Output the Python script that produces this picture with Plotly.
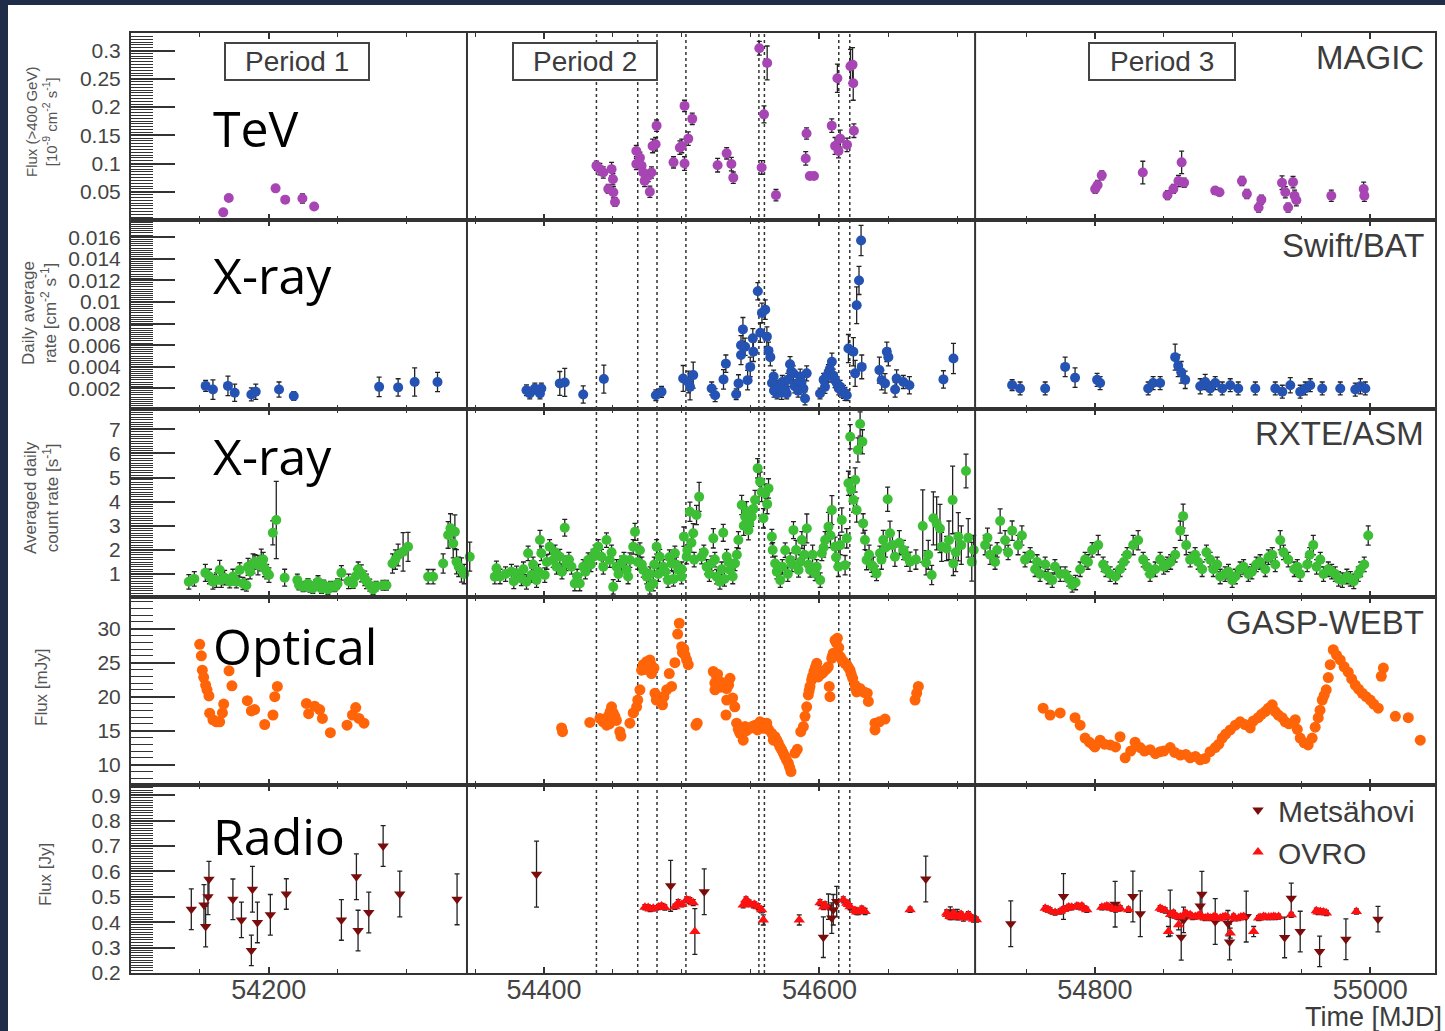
import plotly.graph_objects as go

# ======================= DATA =======================
# --- MAGIC TeV flux (>400 GeV) [1e-9 cm^-2 s^-1] ---
tev_mjd = [54167, 54171, 54205, 54212, 54224.5, 54233,
           54438, 54440.5, 54443, 54446.6, 54449, 54450, 54450.3, 54451.5,
           54467, 54467, 54469.6, 54470.8, 54472, 54473, 54475.6, 54476.8, 54478, 54478.8, 54481, 54481.7,
           54494, 54498.6, 54500, 54502, 54502, 54504.7, 54507.6,
           54526, 54532.6, 54536, 54537.4,
           54556.3, 54558, 54559.7, 54562, 54568.4,
           54590, 54590.6, 54593, 54596,
           54608.9, 54611.3, 54613, 54613.8, 54615, 54620, 54622.5, 54624, 54624.5, 54625,
           54800.2, 54802, 54805, 54834.8, 54852.7, 54857, 54860.7, 54863, 54864.8, 54887.4, 54890.5,
           54906.8, 54910.4, 54918.9, 54920.9, 54935.9, 54938.3, 54940.3, 54943.9, 54945, 54946.3,
           54971.7, 54995.2, 54995.7]
tev_flux = [0.0135, 0.039, 0.056, 0.036, 0.038, 0.024,
            0.096, 0.090, 0.084, 0.055, 0.090, 0.072, 0.049, 0.032,
            0.122, 0.099, 0.110, 0.096, 0.084, 0.069, 0.078, 0.050, 0.084, 0.131, 0.134, 0.167,
            0.102, 0.128, 0.131, 0.202, 0.100, 0.144, 0.179,
            0.097, 0.118, 0.099, 0.075,
            0.304, 0.093, 0.187, 0.278, 0.044,
            0.109, 0.153, 0.078, 0.078,
            0.167, 0.131, 0.251, 0.122, 0.144, 0.133, 0.272, 0.275, 0.242, 0.158,
            0.055, 0.062, 0.079, 0.084, 0.044, 0.055, 0.069, 0.102, 0.066, 0.052, 0.049,
            0.069, 0.046, 0.022, 0.036, 0.066, 0.049, 0.022, 0.067, 0.043, 0.035,
            0.043, 0.055, 0.043]
tev_err = [0.004, 0.004, 0.004, 0.004, 0.008, 0.004,
           0.008, 0.01, 0.01, 0.008, 0.012, 0.01, 0.01, 0.008,
           0.01, 0.01, 0.01, 0.01, 0.01, 0.01, 0.01, 0.01, 0.01, 0.012, 0.012, 0.01,
           0.01, 0.012, 0.012, 0.01, 0.012, 0.012, 0.01,
           0.012, 0.01, 0.012, 0.01,
           0.012, 0.012, 0.015, 0.03, 0.01,
           0.012, 0.01, 0.006, 0.006,
           0.012, 0.015, 0.025, 0.012, 0.015, 0.012, 0.03, 0.03, 0.03, 0.012,
           0.008, 0.008, 0.008, 0.02, 0.008, 0.008, 0.01, 0.02, 0.008, 0.006, 0.006,
           0.008, 0.008, 0.008, 0.008, 0.012, 0.01, 0.008, 0.01, 0.01, 0.01,
           0.01, 0.012, 0.01]

# --- Swift/BAT daily average rate [cm^-2 s^-1] ---
swift_mjd = [54154.2, 54159.5, 54170.4, 54175.3, 54187.4, 54190.6, 54207.5, 54218.2, 54280.2, 54294, 54306, 54322.6,
             54387.2, 54389.6, 54393.3, 54397, 54398, 54411.4, 54415, 54428.4, 54443.4, 54481.2, 54485.3,
             54501, 54504.7, 54506, 54508.3, 54521.7, 54524.2, 54530.3, 54532, 54539.5, 54541.2,
             54543, 54543, 54544.4, 54546, 54547.8, 54549.7, 54551.6, 54552, 54555.2, 54557,
             54558.2, 54560.6, 54561.8, 54563, 54564.3, 54566.7, 54568, 54569.2, 54571.6, 54574,
             54576.2, 54578.6, 54581, 54583.5, 54586, 54588.3, 54589.5, 54590.7,
             54600.4, 54604, 54606.5, 54609, 54611.3, 54615, 54617.4, 54619.8, 54621, 54624.6,
             54625.9, 54627, 54628.7, 54630.2, 54630.7,
             54643.5, 54645.2, 54647.6, 54648.9, 54650, 54654.9, 54656, 54660.9, 54665.3, 54690, 54697.3,
             54565.5, 54567, 54570, 54572.5, 54573, 54575, 54577, 54579.5, 54582, 54584.5,
             54587, 54603, 54605, 54607.5, 54610, 54612.5, 54614, 54616, 54618.5,
             54739.9, 54745.7, 54763.9, 54778.4, 54785.6, 54801.6, 54803.8, 54838.7, 54842.3, 54847.4,
             54858.3, 54860.5, 54862.7, 54865.6, 54876.5, 54880.1, 54883.7, 54887.4, 54892.5, 54898.3,
             54904.1, 54916.5, 54931, 54936.1, 54941.9, 54949.1, 54952.8, 54956.4, 54965.1, 54978.2,
             54989.1, 54992.8, 54996.4]
swift_rate = [0.00224, 0.0019, 0.00224, 0.0016, 0.00145, 0.0017, 0.0019, 0.0013, 0.00215, 0.0021, 0.0026, 0.0026,
              0.00184, 0.00154, 0.002, 0.00154, 0.002, 0.00247, 0.00256, 0.00145, 0.00287, 0.00138, 0.00169,
              0.00293, 0.0026, 0.00215, 0.00324, 0.002, 0.00138, 0.00284, 0.0043, 0.00147, 0.00247,
              0.0051, 0.006, 0.00747, 0.00586, 0.00277, 0.004, 0.00664, 0.0054, 0.011, 0.00716,
              0.009, 0.0093, 0.0068, 0.0055, 0.0049, 0.0031, 0.00215, 0.00154, 0.00184, 0.00215,
              0.00154, 0.00425, 0.0034, 0.00247, 0.0031, 0.002, 0.00108, 0.0034,
              0.00154, 0.00215, 0.0034, 0.00447, 0.00277, 0.00215, 0.00169, 0.00138, 0.0057, 0.0054,
              0.0034, 0.0097, 0.012, 0.0157, 0.004,
              0.0037, 0.00277, 0.00247, 0.0054, 0.0049, 0.0019, 0.00293, 0.0026, 0.0023, 0.00284, 0.00478,
              0.0025, 0.0018, 0.0020, 0.0016, 0.0026, 0.0019, 0.0028, 0.0036, 0.0022, 0.0018,
              0.0026, 0.0028, 0.0031, 0.0038, 0.0032, 0.0025, 0.0020, 0.0018, 0.0015,
              0.00231, 0.0020, 0.0020, 0.0040, 0.0030, 0.0028, 0.0025, 0.0020, 0.0025, 0.0025,
              0.0049, 0.0041, 0.0035, 0.0028, 0.0022, 0.0026, 0.0020, 0.0025, 0.0020, 0.0023,
              0.0020, 0.0020, 0.0020, 0.0017, 0.0023, 0.0017, 0.0020, 0.0023, 0.0020, 0.0020,
              0.0019, 0.0022, 0.0020]
swift_err = [0.0005, 0.0009, 0.0009, 0.0008, 0.0006, 0.0007, 0.0007, 0.0004, 0.0009, 0.0008, 0.0013, 0.0009,
             0.0005, 0.0005, 0.0005, 0.0005, 0.0005, 0.0011, 0.0013, 0.0008, 0.0013, 0.0005, 0.0005,
             0.0012, 0.001, 0.0012, 0.0012, 0.0006, 0.0006, 0.0009, 0.0008, 0.0005, 0.0008,
             0.0009, 0.0009, 0.0011, 0.0008, 0.0009, 0.0009, 0.0009, 0.0009, 0.0008, 0.0009,
             0.0009, 0.0009, 0.0009, 0.0008, 0.0008, 0.0006, 0.0006, 0.0005, 0.0005, 0.0005,
             0.0005, 0.0007, 0.0007, 0.0006, 0.0007, 0.0006, 0.0006, 0.0007,
             0.0005, 0.0006, 0.0008, 0.0008, 0.0007, 0.0006, 0.0006, 0.0005, 0.0013, 0.0013,
             0.0012, 0.0017, 0.0013, 0.0014, 0.0011,
             0.0012, 0.0009, 0.0009, 0.0009, 0.0008, 0.0007, 0.0008, 0.0006, 0.0008, 0.0008, 0.0014,
             0.0006, 0.0006, 0.0006, 0.0006, 0.0006, 0.0006, 0.0006, 0.0006, 0.0006, 0.0006,
             0.0006, 0.0006, 0.0006, 0.0006, 0.0006, 0.0006, 0.0006, 0.0006, 0.0006,
             0.0005, 0.0006, 0.0006, 0.0009, 0.0009, 0.0006, 0.0006, 0.0006, 0.0006, 0.0006,
             0.0012, 0.0010, 0.0010, 0.0008, 0.0007, 0.0007, 0.0006, 0.0006, 0.0006, 0.0006,
             0.0006, 0.0006, 0.0006, 0.0006, 0.0007, 0.0006, 0.0006, 0.0006, 0.0006, 0.0006,
             0.0006, 0.0007, 0.0006]

# --- RXTE/ASM averaged daily count rate [s^-1] ---
rxte_mjd_p1 = [54142, 54154, 54159.5, 54164.4, 54165.6, 54171.7, 54176.5, 54179, 54181.3, 54183.8,
               54185, 54188.6, 54192.2, 54194.6, 54197, 54200.2, 54203, 54205.5, 54211.6, 54220.8,
               54225, 54228.5, 54232, 54235.8, 54238.3, 54243, 54248, 54252.8, 54261.3, 54267.3,
               54269.8, 54273.4, 54275.8, 54283, 54285.5, 54289.9, 54294, 54297.6, 54301.2, 54315.8,
               54319.4, 54326.7, 54330.3, 54334, 54335.2, 54336.4, 54340, 54346,
               54146, 54157, 54162, 54168, 54174, 54186.5, 54190, 54196, 54198.5, 54222,
               54226.5, 54230, 54234, 54240, 54245, 54250, 54258, 54263, 54265, 54271,
               54278, 54292, 54332, 54338, 54342]
rxte_rate_p1 = [0.68, 1.05, 0.68, 1.17, 0.75, 0.68, 0.68, 1.17, 0.61, 0.54,
                1.3, 1.44, 1.37, 1.58, 1.24, 0.96, 2.71, 3.24, 0.85, 0.75,
                0.47, 0.61, 0.4, 0.68, 0.4, 0.36, 0.47, 1.05, 0.61, 1.03,
                0.82, 0.54, 0.36, 0.54, 0.54, 1.44, 1.79, 1.92, 2.13, 0.89,
                0.89, 1.44, 2.62, 2.27, 2.75, 1.51, 1.17, 1.72,
                0.8, 0.9, 0.75, 0.85, 0.9, 1.1, 1.5, 1.6, 1.1, 0.55,
                0.5, 0.45, 0.55, 0.55, 0.5, 0.6, 0.7, 0.9, 1.2, 0.7,
                0.5, 1.6, 2.9, 1.3, 1.0]
rxte_err_p1 = [0.3, 0.35, 0.3, 0.4, 0.3, 0.25, 0.25, 0.3, 0.25, 0.25,
               0.35, 0.4, 0.4, 0.45, 0.35, 0.3, 0.5, 1.6, 0.35, 0.25,
               0.2, 0.2, 0.2, 0.25, 0.2, 0.2, 0.2, 0.3, 0.2, 0.35,
               0.3, 0.25, 0.2, 0.2, 0.2, 0.4, 0.45, 0.8, 0.6, 0.3,
               0.3, 0.4, 0.55, 0.6, 0.7, 0.5, 0.5, 0.6,
               0.3, 0.3, 0.3, 0.3, 0.3, 0.3, 0.3, 0.3, 0.3, 0.2,
               0.2, 0.2, 0.2, 0.2, 0.2, 0.2, 0.3, 0.3, 0.3, 0.3,
               0.2, 0.4, 0.6, 0.4, 0.4]
rxte_mjd_p2 = [54364.2, 54365.4, 54376.3, 54380, 54383.5, 54387.2, 54388.4, 54390.8, 54394.5, 54397,
               54398, 54400.5, 54404, 54406.6, 54409, 54411.4, 54415, 54416.2, 54419.9, 54422.3,
               54425.9, 54428.4, 54432, 54435.6, 54439.3, 54441.7, 54445.3, 54447.7, 54450.2, 54452.6,
               54456.3, 54459.9, 54462.3, 54464.7, 54466, 54469.6, 54472, 54474.5, 54476.8, 54479.3,
               54481.7, 54484, 54486.5, 54490, 54492.6, 54495, 54497.4, 54499.8, 54501.5, 54503.5,
               54505.9, 54508.3, 54510.7, 54512.6, 54514.4, 54518, 54521.7, 54522.9, 54525.3, 54527.7,
               54530.1, 54532.6, 54535, 54538.6, 54541.1, 54543.5, 54546, 54548.4, 54550.8, 54553.2,
               54555.1, 54556.9, 54559.3, 54560.6, 54563, 54565.4, 54567.8, 54571.5, 54575.1, 54578.7,
               54581.1, 54584.8, 54587.2, 54590.8, 54593.2, 54596.9, 54600.5, 54601.7, 54604.1, 54606.5,
               54609, 54611.3, 54613.7, 54616.2, 54618.6, 54619.8, 54621, 54622.3, 54624.7, 54625.9,
               54627.9, 54629.5, 54631.2, 54627, 54631.7, 54633, 54634.2, 54637.8, 54641.4, 54643.9,
               54646.3, 54649.5, 54651.2, 54654.8, 54663.3, 54665.7, 54675, 54677.4, 54681.5, 54682.7,
               54685.1, 54687.5, 54688.7, 54692.3, 54696.7, 54697.2, 54700.8, 54706.4, 54710.6,
               54368, 54372, 54378, 54385, 54392, 54396, 54402, 54408, 54413, 54418,
               54424, 54430, 54434, 54437, 54443, 54449, 54454, 54458, 54461, 54468,
               54471, 54477, 54480, 54483, 54488, 54491, 54494, 54496, 54500, 54504,
               54507, 54509, 54516, 54520, 54524, 54529, 54531, 54534, 54537, 54540,
               54545, 54547, 54549, 54552, 54558, 54562, 54566, 54569, 54573, 54577,
               54580, 54583, 54586, 54589, 54592, 54595, 54598, 54603, 54608, 54612,
               54615, 54623, 54636, 54639, 54645, 54648, 54653, 54658, 54661, 54670,
               54679, 54694, 54699, 54703, 54708, 54712]
rxte_rate_p2 = [0.89, 1.24, 1.1, 1.03, 0.82, 0.68, 1.86, 0.96, 0.75, 2.41,
                1.86, 0.96, 2.13, 1.58, 1.3, 1.72, 2.92, 1.44, 1.3, 0.61,
                0.61, 1.3, 1.58, 1.72, 2.13, 1.72, 2.41, 1.58, 0.47, 1.3,
                1.44, 1.17, 1.58, 2.13, 2.75, 1.99, 1.17, 0.89, 0.47, 0.61,
                2.13, 1.72, 1.3, 0.75, 1.44, 1.86, 1.17, 0.89, 2.55, 1.72,
                3.58, 2.69, 3.45, 4.2, 1.72, 1.3, 1.44, 2.48, 0.89, 0.68,
                2.71, 1.72, 1.17, 1.44, 2.41, 3.86, 3.38, 2.82, 3.38, 4.07,
                5.38, 4.83, 3.31, 4.34, 4.55, 2.55, 1.44, 0.75, 1.99, 1.58,
                2.82, 1.17, 2.41, 2.89, 1.17, 1.03, 0.75, 1.86, 2.41, 2.96,
                3.65, 2.13, 1.3, 3.24, 1.37, 2.48, 4.76, 6.69, 4.07, 4.9,
                6.14, 7.22, 6.48, 3.65, 3.1, 2.41, 1.58, 1.37, 1.03, 1.86,
                2.41, 4.1, 2.69, 1.72, 1.72, 1.51, 2.99, 1.47, 0.96, 3.31,
                3.1, 2.89, 2.13, 2.06, 4.07, 1.44, 2.55, 5.27, 1.51,
                0.9, 1.0, 0.7, 1.2, 1.4, 1.1, 1.5, 1.9, 1.1, 1.6,
                0.9, 1.1, 1.4, 1.9, 1.3, 1.9, 1.0, 1.6, 0.9, 1.5,
                1.4, 1.0, 1.4, 1.0, 1.1, 1.7, 0.8, 1.4, 1.2, 2.0,
                2.3, 1.6, 1.9, 1.0, 1.6, 1.2, 0.8, 1.5, 0.9, 1.8,
                3.0, 3.6, 3.1, 3.7, 4.4, 3.9, 2.0, 1.1, 1.3, 1.0,
                1.4, 2.0, 1.5, 1.8, 1.4, 1.8, 1.3, 2.1, 2.6, 1.7,
                2.2, 4.5, 1.8, 1.3, 1.6, 2.1, 2.2, 2.3, 2.0, 1.6,
                1.8, 2.4, 1.9, 2.2, 2.5, 2.0]
rxte_err_p2 = [0.3, 0.3, 0.3, 0.3, 0.3, 0.3, 0.3, 0.3, 0.3, 0.4,
               0.3, 0.3, 0.3, 0.3, 0.3, 0.3, 0.35, 0.3, 0.3, 0.3,
               0.3, 0.3, 0.3, 0.3, 0.3, 0.3, 0.3, 0.3, 0.3, 0.3,
               0.3, 0.3, 0.3, 0.3, 0.35, 0.3, 0.3, 0.3, 0.3, 0.3,
               0.3, 0.3, 0.3, 0.3, 0.3, 0.3, 0.3, 0.3, 0.4, 0.3,
               0.4, 0.4, 0.4, 0.6, 0.3, 0.3, 0.3, 0.4, 0.3, 0.3,
               0.35, 0.3, 0.3, 0.3, 0.35, 0.4, 0.4, 0.4, 0.4, 0.4,
               0.4, 0.4, 0.4, 0.4, 0.4, 0.3, 0.3, 0.3, 0.3, 0.3,
               0.35, 0.3, 0.35, 0.6, 0.3, 0.3, 0.3, 0.3, 0.35, 0.6,
               0.6, 0.4, 0.4, 0.5, 0.4, 0.4, 0.5, 0.5, 0.5, 0.5,
               0.5, 0.5, 0.5, 0.5, 0.4, 0.4, 0.4, 0.3, 0.3, 0.3,
               0.4, 0.5, 0.5, 0.4, 0.4, 0.4, 1.5, 0.5, 0.4, 1.1,
               1.1, 1.0, 0.6, 0.5, 1.4, 0.5, 1.0, 0.7, 0.8,
               0.3, 0.3, 0.3, 0.3, 0.3, 0.3, 0.3, 0.3, 0.3, 0.3,
               0.3, 0.3, 0.3, 0.3, 0.3, 0.3, 0.3, 0.3, 0.3, 0.3,
               0.3, 0.3, 0.3, 0.3, 0.3, 0.3, 0.3, 0.3, 0.3, 0.4,
               0.4, 0.3, 0.3, 0.3, 0.3, 0.3, 0.3, 0.3, 0.3, 0.3,
               0.4, 0.4, 0.4, 0.4, 0.4, 0.4, 0.3, 0.3, 0.3, 0.3,
               0.3, 0.4, 0.3, 0.4, 0.3, 0.4, 0.3, 0.4, 0.5, 0.4,
               0.4, 0.5, 0.4, 0.4, 0.4, 0.4, 0.5, 0.5, 0.4, 0.4,
               0.6, 0.8, 0.8, 0.8, 0.8, 0.6]
rxte_mjd_p3 = [54720.3, 54723.9, 54727.5, 54731.2, 54734.8, 54739.9, 54744.2, 54749.3, 54753, 54756.6,
               54760.2, 54763.9, 54769, 54774.8, 54778.4, 54783.5, 54789.3, 54792.9, 54798, 54802.4,
               54806, 54811.1, 54818.3, 54823.4, 54827.8, 54831.4, 54835.1, 54840.1, 54843.8, 54847.4,
               54852.5, 54858.3, 54862, 54864.1, 54866.3, 54869.2, 54872.8, 54877.9, 54883.7, 54888.8,
               54894.6, 54899.7, 54905.5, 54911.4, 54917.2, 54923.7, 54928.8, 54934.6, 54940.4, 54944.8,
               54949.1, 54954.2, 54958.6, 54963.7, 54969.5, 54974.6, 54979.7, 54985.5, 54991.3, 54995.6,
               54998.5,
               54722, 54729, 54737, 54747, 54758, 54766, 54771, 54781, 54786, 54795,
               54808, 54815, 54821, 54838, 54850, 54855, 54875, 54881, 54886, 54891,
               54897, 54902, 54908, 54914, 54920, 54926, 54931, 54937, 54947, 54956,
               54961, 54966, 54972, 54977, 54983, 54988, 54993]
rxte_rate_p3 = [2.2, 1.8, 1.5, 3.2, 2.4, 2.8, 2.2, 1.6, 1.8, 1.2,
                1.0, 1.4, 0.75, 1.0, 1.0, 0.55, 1.2, 1.6, 2.0, 2.2,
                1.4, 1.0, 1.2, 1.8, 2.2, 2.4, 1.6, 1.0, 1.2, 1.6,
                1.4, 1.8, 2.8, 3.4, 2.2, 1.6, 1.8, 1.2, 1.6, 1.4,
                1.0, 0.75, 1.2, 1.0, 1.4, 1.2, 1.8, 2.4, 1.6, 1.2,
                1.0, 1.4, 2.2, 1.6, 1.2, 1.0, 0.75, 0.8, 1.0, 1.4,
                2.6,
                2.5, 2.0, 1.9, 2.6, 1.5, 0.9, 1.3, 0.8, 0.65, 1.5,
                1.2, 0.9, 1.5, 1.3, 1.3, 1.5, 1.5, 1.9, 1.2, 0.9,
                1.1, 0.9, 1.3, 1.1, 1.5, 1.7, 1.4, 1.9, 1.3, 1.8,
                1.3, 1.0, 1.1, 0.8, 0.9, 0.7, 1.2]
rxte_err_p3 = [0.4, 0.4, 0.3, 0.5, 0.4, 0.4, 0.4, 0.3, 0.3, 0.3,
               0.3, 0.3, 0.3, 0.3, 0.3, 0.3, 0.3, 0.3, 0.3, 0.4,
               0.3, 0.3, 0.3, 0.3, 0.4, 0.4, 0.3, 0.3, 0.3, 0.3,
               0.3, 0.3, 0.4, 0.5, 0.4, 0.3, 0.3, 0.3, 0.3, 0.3,
               0.3, 0.3, 0.3, 0.3, 0.3, 0.3, 0.3, 0.4, 0.3, 0.3,
               0.3, 0.3, 0.4, 0.3, 0.3, 0.3, 0.3, 0.3, 0.3, 0.3,
               0.4,
               0.4, 0.3, 0.3, 0.4, 0.3, 0.3, 0.3, 0.3, 0.3, 0.3,
               0.3, 0.3, 0.3, 0.3, 0.3, 0.3, 0.3, 0.3, 0.3, 0.3,
               0.3, 0.3, 0.3, 0.3, 0.3, 0.3, 0.3, 0.3, 0.3, 0.3,
               0.3, 0.3, 0.3, 0.3, 0.3, 0.3, 0.3]

# --- GASP-WEBT optical flux [mJy] ---
opt_mjd_p1 = [54149.9, 54151.1, 54151.8, 54152.8, 54154.2, 54155.2, 54156.6, 54157.1, 54159.5, 54162,
              54164.4, 54166.4, 54167.3, 54171.2, 54173.3, 54184.5, 54187.4, 54189.8, 54197.1, 54203.1,
              54204.4, 54206.3, 54227.4, 54229, 54233.4, 54237, 54239, 54244.8, 54256.9, 54260.8,
              54263.2, 54265.6, 54269.2]
opt_flux_p1 = [27.7, 26.0, 23.9, 22.85, 21.7, 21.0, 20.1, 17.56, 16.6, 16.3,
               16.3, 17.6, 18.9, 23.8, 21.6, 19.4, 17.9, 18.1, 15.9, 17.3,
               20.0, 21.5, 19.0, 17.5, 18.6, 18.1, 16.8, 14.7, 15.8, 17.3,
               18.4, 16.8, 16.1]
opt_mjd_p2 = [54412.7, 54413.4, 54433.2, 54440.5, 54442.9, 54445.4, 54446.5, 54449, 54450.2, 54451.4,
              54455, 54455.8, 54462.3, 54464.7, 54467.2, 54469.6, 54470.8, 54472, 54474.4, 54476.8,
              54478, 54479.8, 54480.5, 54482.9, 54485.4, 54487, 54489, 54490.9, 54492.6, 54495,
              54497, 54498.2, 54499.9, 54502.3, 54503.5, 54504.7, 54510.3, 54511.2, 54522.9, 54525.3,
              54527.7, 54530.1, 54524.1, 54532.6, 54535, 54532.6, 54536.9, 54532.1, 54538.5, 54539.8,
              54542.2, 54544.6, 54545.9, 54549.5, 54553.2, 54556.8, 54559.3, 54561.7, 54565.3, 54567.7,
              54570.1, 54572.5, 54574.9, 54577.4, 54579.3, 54582.2, 54583.9, 54586.4, 54588.3, 54589.5,
              54590.7, 54591.9, 54593.1, 54594.3, 54596, 54598, 54599.1, 54601.6, 54604, 54606.4,
              54607.1, 54607.6, 54608.9, 54610, 54611.3, 54613, 54615, 54617.4, 54619.8, 54622.2,
              54624.1, 54625.8, 54627, 54629.4, 54631.8, 54634.7, 54635.5, 54640.3, 54640.3, 54643.5,
              54647.6, 54669.4, 54670.6, 54671.8,
              54444, 54447.5, 54448, 54452.5, 54468, 54473, 54475.5, 54477.5, 54481.5, 54484,
              54486, 54500.5, 54501.5, 54524, 54526, 54528.5, 54531, 54534, 54541, 54547,
              54551, 54555, 54558, 54560.5, 54563, 54566.5, 54569, 54571.3, 54573.7, 54576,
              54578.3, 54592.5, 54595, 54597, 54600, 54602.8, 54605.2, 54609.5, 54612, 54614,
              54616, 54618.5, 54621, 54623, 54626.5, 54628, 54630.5, 54633]
opt_flux_p2 = [15.4, 14.85, 16.2, 16.8, 16.3, 15.8, 17.1, 18.5, 17.6, 17.1,
               14.85, 14.2, 16.1, 17.6, 18.5, 21.0, 23.9, 24.7, 25.15, 25.4,
               23.4, 24.2, 20.5, 20.0, 19.0, 20.0, 21.0, 23.4, 21.5, 25.0,
               29.2, 30.8, 27.35, 26.1, 25.4, 24.7, 15.8, 16.1, 23.7, 22.9,
               22.2, 21.7, 21.0, 21.2, 22.7, 19.5, 19.8, 17.3, 18.5, 16.1,
               14.6, 13.6, 15.6, 15.35, 15.8, 16.3, 15.35, 16.1, 14.6, 14.1,
               13.15, 12.2, 11.2, 10.2, 8.97, 11.7, 12.25, 14.85, 15.6, 17.1,
               18.5, 20.25, 21.5, 22.45, 23.7, 24.9, 22.9, 23.4, 23.9, 24.4,
               21.5, 20.0, 25.65, 26.4, 28.3, 28.6, 25.9, 25.15, 24.7, 23.9,
               22.7, 21.7, 20.7, 21.2, 20.7, 20.5, 19.3, 16.1, 15.1, 16.3,
               16.7, 19.5, 20.5, 21.5,
               16.6, 16.0, 17.8, 16.5, 19.5, 24.0, 24.5, 24.8, 19.5, 19.8,
               18.8, 26.5, 27.0, 22.0, 23.3, 21.4, 22.0, 21.7, 15.2, 15.0,
               15.6, 15.1, 15.9, 15.7, 15.2, 13.6, 13.6, 12.6, 11.7, 10.7,
               9.6, 20.9, 23.0, 24.3, 23.2, 23.6, 24.1, 26.0, 28.0, 27.2,
               25.5, 24.9, 24.3, 23.3, 21.2, 20.9, 20.9, 20.6]
opt_mjd_p3 = [54762.4, 54767.5, 54774.8, 54785.6, 54789.3, 54792.9, 54798.7, 54803.8, 54811.1, 54818.3,
              54822, 54829.2, 54832.9, 54840.1, 54847.4, 54854.7, 54862, 54869.2, 54876.5, 54883.7,
              54887.4, 54892.5, 54898.3, 54905.5, 54912.8, 54918.6, 54923.7, 54928.8, 54933.2, 54938.2,
              54945.5, 54949.1, 54954.9, 54957.8, 54962.2, 54965.1, 54968, 54970.9, 54973.1, 54978.2,
              54984, 54989.1, 54994.2, 55000, 55005.8, 55009.5, 55018.2, 55027.6, 55036.3,
              54796, 54800, 54807, 54815, 54826, 54836, 54844, 54850, 54858, 54866,
              54873, 54880, 54890, 54895, 54902, 54909, 54915, 54921, 54926, 54931,
              54936, 54941, 54947, 54952, 54960, 54963.5, 54966.5, 54969.5, 54975.5, 54981,
              54986.5, 54991.5, 54997, 55002.5, 55008]
opt_flux_p3 = [18.3, 17.3, 17.6, 16.9, 15.8, 13.9, 12.9, 13.6, 12.9, 14.1,
               11.0, 13.3, 12.5, 12.2, 11.9, 12.5, 11.4, 11.0, 10.7, 11.9,
               12.5, 13.9, 15.1, 16.3, 15.4, 16.9, 17.8, 18.8, 17.3, 16.3,
               16.6, 13.9, 12.9, 13.9, 16.9, 19.5, 21.0, 24.7, 26.9, 25.4,
               23.6, 21.7, 20.5, 19.5, 18.3, 24.2, 17.1, 16.9, 13.6,
               13.3, 12.6, 13.0, 12.6, 12.0, 12.0, 11.6, 12.0, 11.8, 11.5,
               11.2, 10.9, 13.0, 14.5, 15.8, 15.9, 16.4, 17.4, 18.3, 17.8,
               16.9, 16.0, 15.2, 13.2, 15.5, 18.0, 20.2, 22.8, 26.1, 24.4,
               22.6, 21.1, 20.0, 18.9, 23.0]

# --- Radio flux [Jy] ---
mets_mjd = [54143.8, 54153, 54154.2, 54155.9, 54156.6, 54174, 54180.2, 54187.4, 54188.2, 54191.8,
            54201.2, 54212.8, 54252.8, 54263.7, 54264.9, 54272.7, 54283.1, 54295.2, 54336.8,
            54394.5, 54491.9, 54516.3, 54602.8, 54606.5, 54608.9, 54610, 54612.5, 54677.2, 54695, 54700,
            54738.9, 54777.2, 54814.7, 54827.6, 54833, 54854.7, 54862.7, 54864.4, 54876.5, 54877.7,
            54887.4, 54896.6, 54897.8, 54909.9, 54937.8, 54942.6, 54949.1, 54963.2, 54982.3, 55005.6]
mets_flux = [0.451, 0.468, 0.383, 0.5, 0.569, 0.49, 0.409, 0.289, 0.53, 0.399,
             0.429, 0.511, 0.409, 0.579, 0.367, 0.438, 0.7, 0.511, 0.49,
             0.589, 0.543, 0.52, 0.341, 0.461, 0.416, 0.449, 0.481, 0.57, 0.44, 0.43,
             0.394, 0.501, 0.471, 0.501, 0.433, 0.436, 0.341, 0.409, 0.464, 0.51,
             0.403, 0.396, 0.322, 0.422, 0.34, 0.494, 0.363, 0.285, 0.333, 0.412]
mets_err = [0.08, 0.08, 0.08, 0.07, 0.07, 0.08, 0.07, 0.06, 0.09, 0.08,
            0.08, 0.06, 0.08, 0.09, 0.08, 0.08, 0.08, 0.09, 0.1,
            0.13, 0.1, 0.09, 0.08, 0.05, 0.06, 0.06, 0.06, 0.09, 0.02, 0.02,
            0.09, 0.09, 0.09, 0.1, 0.09, 0.09, 0.09, 0.05, 0.05, 0.09,
            0.09, 0.05, 0.07, 0.1, 0.08, 0.06, 0.08, 0.06, 0.08, 0.05]
ovro_mjd = [54473.2, 54475.6, 54479.3, 54485.3, 54487.7, 54495, 54497.4, 54503.5, 54505.9, 54508.3,
            54509.5, 54544.6, 54546.6, 54549, 54551.9, 54555.5, 54558, 54559.2, 54585.3, 54600.4,
            54604, 54617.3, 54619.8, 54622.2, 54625.8, 54628.2, 54630.7, 54633.1, 54665.8, 54692.4,
            54694.8, 54697.2, 54699.7, 54702.1, 54704.5, 54708.1, 54711.8,
            54477, 54483, 54500, 54548, 54553, 54603, 54621, 54627, 54632, 54693,
            54696, 54698, 54701, 54703, 54706, 54710, 54714,
            54763.9, 54767.5, 54771.1, 54774.7, 54779.6, 54783.2, 54786.9, 54790.5, 54794.1, 54805,
            54808.7, 54812.3, 54818.4, 54824.4, 54847.4, 54851.1, 54853.4, 54857.1, 54859.6, 54860.8,
            54865.6, 54869.2, 54872.9, 54876.5, 54880.1, 54883.8, 54887.4, 54891, 54894.7, 54898.3,
            54900.7, 54904.4, 54908, 54915.3, 54918.9, 54922.5, 54926.2, 54929.8, 54933.4, 54942.6,
            54960.8, 54963.7, 54968.1, 54989.9,
            54766, 54777, 54781, 54788, 54792, 54807, 54810, 54815, 54849, 54855,
            54862, 54867, 54871, 54875, 54878, 54882, 54886, 54889, 54893, 54896,
            54902, 54906, 54920, 54924, 54928, 54931, 54962, 54966]
ovro_flux = [0.459, 0.458, 0.455, 0.464, 0.458, 0.461, 0.477, 0.488, 0.485, 0.477,
             0.363, 0.468, 0.488, 0.475, 0.468, 0.461, 0.449, 0.409, 0.409, 0.477,
             0.468, 0.488, 0.475, 0.461, 0.446, 0.442, 0.451, 0.442, 0.449, 0.436,
             0.422, 0.436, 0.422, 0.429, 0.416, 0.429, 0.412,
             0.452, 0.46, 0.47, 0.48, 0.47, 0.46, 0.47, 0.44, 0.445, 0.43,
             0.42, 0.43, 0.42, 0.43, 0.42, 0.42, 0.41,
             0.455, 0.446, 0.438, 0.442, 0.455, 0.459, 0.464, 0.464, 0.449, 0.459,
             0.464, 0.455, 0.455, 0.449, 0.455, 0.446, 0.363, 0.436, 0.422, 0.39,
             0.436, 0.429, 0.422, 0.429, 0.416, 0.416, 0.422, 0.416, 0.422, 0.357,
             0.422, 0.416, 0.422, 0.363, 0.416, 0.422, 0.42, 0.422, 0.422, 0.429,
             0.445, 0.442, 0.436, 0.442,
             0.45, 0.45, 0.46, 0.462, 0.455, 0.46, 0.46, 0.45, 0.45, 0.43,
             0.42, 0.43, 0.42, 0.425, 0.42, 0.42, 0.42, 0.415, 0.42, 0.42,
             0.415, 0.42, 0.418, 0.42, 0.42, 0.42, 0.44, 0.44]
ovro_err = [0.01, 0.01, 0.01, 0.01, 0.01, 0.01, 0.012, 0.012, 0.012, 0.012,
            0.09, 0.012, 0.012, 0.012, 0.012, 0.012, 0.012, 0.02, 0.02, 0.012,
            0.012, 0.012, 0.012, 0.012, 0.012, 0.012, 0.012, 0.012, 0.01, 0.012,
            0.012, 0.012, 0.012, 0.012, 0.012, 0.012, 0.012,
            0.01, 0.01, 0.01, 0.01, 0.01, 0.01, 0.01, 0.01, 0.01, 0.01,
            0.01, 0.01, 0.01, 0.01, 0.01, 0.01, 0.01,
            0.01, 0.01, 0.01, 0.01, 0.01, 0.01, 0.01, 0.01, 0.01, 0.01,
            0.01, 0.01, 0.01, 0.01, 0.01, 0.01, 0.02, 0.01, 0.01, 0.02,
            0.01, 0.01, 0.01, 0.01, 0.01, 0.01, 0.01, 0.01, 0.01, 0.02,
            0.01, 0.01, 0.01, 0.02, 0.01, 0.01, 0.01, 0.01, 0.01, 0.01,
            0.01, 0.01, 0.01, 0.01,
            0.01, 0.01, 0.01, 0.01, 0.01, 0.01, 0.01, 0.01, 0.01, 0.01,
            0.01, 0.01, 0.01, 0.01, 0.01, 0.01, 0.01, 0.01, 0.01, 0.01,
            0.01, 0.01, 0.01, 0.01, 0.01, 0.01, 0.01, 0.01]

# --- reference epochs (dotted) and period boundaries (solid) [MJD] ---
flare_epochs = [54438, 54468, 54482, 54503, 54556, 54560, 54614, 54622]
period_bounds = [54344, 54713]

# --- axis ticks / labels ---
x_range = [54100, 55047]
x_ticks = [54200, 54400, 54600, 54800, 55000]
x_tick_text = ["54200", "54400", "54600", "54800", "55000"]
tev_ticks = [0.05, 0.1, 0.15, 0.2, 0.25, 0.3]
tev_tick_text = ["0.05", "0.1", "0.15", "0.2", "0.25", "0.3"]
swift_ticks = [0.002, 0.004, 0.006, 0.008, 0.010, 0.012, 0.014, 0.016]
swift_tick_text = ["0.002", "0.004", "0.006", "0.008", "0.01", "0.012", "0.014", "0.016"]
rxte_ticks = [1, 2, 3, 4, 5, 6, 7]
rxte_tick_text = ["1", "2", "3", "4", "5", "6", "7"]
opt_ticks = [10, 15, 20, 25, 30]
opt_tick_text = ["10", "15", "20", "25", "30"]
radio_ticks = [0.2, 0.3, 0.4, 0.5, 0.6, 0.7, 0.8, 0.9]
radio_tick_text = ["0.2", "0.3", "0.4", "0.5", "0.6", "0.7", "0.8", "0.9"]

# ======================= FIGURE =======================
W, H = 1445, 1031


def fx(p):
    return p / W


def fy(p):
    return 1 - p / H


PLOT_L, PLOT_R = 131, 1435
panel_px = [(33, 220), (220, 409), (409, 597), (597, 785), (785, 973)]

y_cfg = [
    dict(range=[0, 0.331], tickvals=tev_ticks, ticktext=tev_tick_text, minor=0.005),
    dict(range=[0.0001, 0.0176], tickvals=swift_ticks, ticktext=swift_tick_text, minor=0.0002),
    dict(range=[0.05, 7.84], tickvals=rxte_ticks, ticktext=rxte_tick_text, minor=0.1),
    dict(range=[7.0, 34.66], tickvals=opt_ticks, ticktext=opt_tick_text, minor=1),
    dict(range=[0.2, 0.94], tickvals=radio_ticks, ticktext=radio_tick_text, minor=0.01),
]

AX = "#333333"
TXT = "#3c3c3c"
FONT = "Liberation Sans, Arial, Helvetica, sans-serif"

fig = go.Figure()

err_style = dict(type="data", color="#222222", thickness=1.3, width=2.5)


def add(x, y, err, row, color, symbol="circle", size=10, name=None, legend=False):
    fig.add_trace(go.Scatter(
        x=x, y=y, mode="markers",
        marker=dict(color=color, size=size, symbol=symbol, line=dict(width=0)),
        error_y=dict(array=err, **err_style) if err is not None else None,
        xaxis="x" if row == 1 else "x%d" % row,
        yaxis="y" if row == 1 else "y%d" % row,
        name=name, showlegend=legend, hoverinfo="skip"))


add(tev_mjd, tev_flux, tev_err, 1, "#a845b4")
add(swift_mjd, swift_rate, swift_err, 2, "#2453b3")
add(rxte_mjd_p1 + rxte_mjd_p2 + rxte_mjd_p3, rxte_rate_p1 + rxte_rate_p2 + rxte_rate_p3,
    rxte_err_p1 + rxte_err_p2 + rxte_err_p3, 3, "#3cbe35")
add(opt_mjd_p1 + opt_mjd_p2 + opt_mjd_p3, opt_flux_p1 + opt_flux_p2 + opt_flux_p3, None, 4, "#ff6408", size=11)
add(mets_mjd, mets_flux, mets_err, 5, "#7a0c0c", symbol="triangle-down", size=10, name="Metsähovi", legend=True)
add(ovro_mjd, ovro_flux, ovro_err, 5, "#ff1010", symbol="triangle-up", size=10, name="OVRO", legend=True)

layout = dict(
    width=W, height=H,
    margin=dict(l=0, r=0, t=0, b=0, pad=0, autoexpand=False),
    paper_bgcolor="#1f2d48", plot_bgcolor="rgba(0,0,0,0)",
    font=dict(family=FONT, color=TXT),
    showlegend=True,
    legend=dict(x=fx(1238), y=fy(784), xanchor="left", yanchor="top",
                bgcolor="rgba(0,0,0,0)", borderwidth=0,
                font=dict(size=30, color=TXT, family=FONT), tracegroupgap=0),
)

for i, ((top, bot), yc) in enumerate(zip(panel_px, y_cfg), start=1):
    s = "" if i == 1 else str(i)
    layout["xaxis" + s] = dict(
        domain=[fx(PLOT_L), fx(PLOT_R)], range=x_range, anchor="y" + s,
        showline=True, linecolor=AX, linewidth=2, mirror="ticks",
        ticks="inside", ticklen=6, tickwidth=1.5, tickcolor=AX,
        tickmode="array", tickvals=x_ticks, ticktext=x_tick_text,
        showticklabels=(i == 5), tickfont=dict(size=27, color="#444444"),
        ticklabelstandoff=-8,
        minor=dict(tickmode="linear", tick0=0, dtick=50, ticklen=4, tickwidth=1,
                   tickcolor=AX, ticks="inside"),
        showgrid=False, zeroline=False)
    layout["yaxis" + s] = dict(
        domain=[fy(bot), fy(top)], range=yc["range"], anchor="x" + s,
        showline=True, linecolor=AX, linewidth=2, mirror=True,
        ticks="inside", ticklen=44, tickwidth=1.5, tickcolor=AX,
        tickmode="array", tickvals=yc["tickvals"], ticktext=yc["ticktext"],
        tickfont=dict(size=21, color="#444444"),
        ticklabelstandoff=4,
        minor=dict(tickmode="linear", tick0=0, dtick=yc["minor"], ticklen=22, tickwidth=1,
                   tickcolor=AX, ticks="inside"),
        showgrid=False, zeroline=False)

shapes = [dict(type="rect", xref="paper", yref="paper", x0=fx(8), x1=1, y0=0, y1=fy(5),
               fillcolor="white", line=dict(width=0), layer="below")]
for e in flare_epochs:
    shapes.append(dict(type="line", xref="x5", yref="paper", x0=e, x1=e,
                       y0=fy(973), y1=fy(33), line=dict(color="#333333", width=1.5, dash="dot"),
                       layer="below"))
for b in period_bounds:
    shapes.append(dict(type="line", xref="x5", yref="paper", x0=b, x1=b,
                       y0=fy(973), y1=fy(33), line=dict(color=AX, width=2), layer="above"))

period_boxes = [("Period 1", 225, 369), ("Period 2", 513, 657), ("Period 3", 1089, 1235)]
annotations = []
for label, x0, x1 in period_boxes:
    shapes.append(dict(type="rect", xref="paper", yref="paper", x0=fx(x0), x1=fx(x1),
                       y0=fy(80), y1=fy(43), line=dict(color="#444444", width=2),
                       fillcolor="white", layer="above"))
    annotations.append(dict(text=label, xref="paper", yref="paper", x=fx((x0 + x1) / 2), y=fy(62),
                            xanchor="center", yanchor="middle", showarrow=False,
                            font=dict(size=28, color=TXT, family=FONT)))

band_labels = [("TeV", 128), ("X-ray", 275), ("X-ray", 456), ("Optical", 646), ("Radio", 836)]
for txt, yc in band_labels:
    annotations.append(dict(text=txt, xref="paper", yref="paper", x=fx(211), y=fy(yc),
                            xanchor="left", yanchor="middle", showarrow=False,
                            font=dict(size=50, color="#000000", family="Open Sans")))

instr_labels = [("MAGIC", 58), ("Swift/BAT", 246), ("RXTE/ASM", 434), ("GASP-WEBT", 622)]
for txt, yc in instr_labels:
    annotations.append(dict(text=txt, xref="paper", yref="paper", x=fx(1426), y=fy(yc),
                            xanchor="right", yanchor="middle", showarrow=False,
                            font=dict(size=33, color=TXT, family=FONT)))

ytitles = [("Flux (>400 GeV)<br>[10<sup>-9</sup> cm<sup>-2</sup> s<sup>-1</sup>]", 41, 122, 15),
           ("Daily average<br>rate [cm<sup>-2</sup> s<sup>-1</sup>]", 40, 313, 17),
           ("Averaged daily<br>count rate [s<sup>-1</sup>]", 41, 498, 17),
           ("Flux [mJy]", 41, 688, 17),
           ("Flux [Jy]", 45, 875, 17)]
for txt, xc, yc, fs in ytitles:
    annotations.append(dict(text=txt, xref="paper", yref="paper", x=fx(xc), y=fy(yc),
                            xanchor="center", yanchor="middle", showarrow=False, textangle=-90,
                            font=dict(size=fs, color="#555555", family=FONT)))

annotations.append(dict(text="Time [MJD]", xref="paper", yref="paper", x=fx(1444), y=fy(1017),
                        xanchor="right", yanchor="middle", showarrow=False,
                        font=dict(size=27, color=TXT, family=FONT)))

layout["shapes"] = shapes
layout["annotations"] = annotations
fig.update_layout(**layout)

fig.write_html("out.html")
